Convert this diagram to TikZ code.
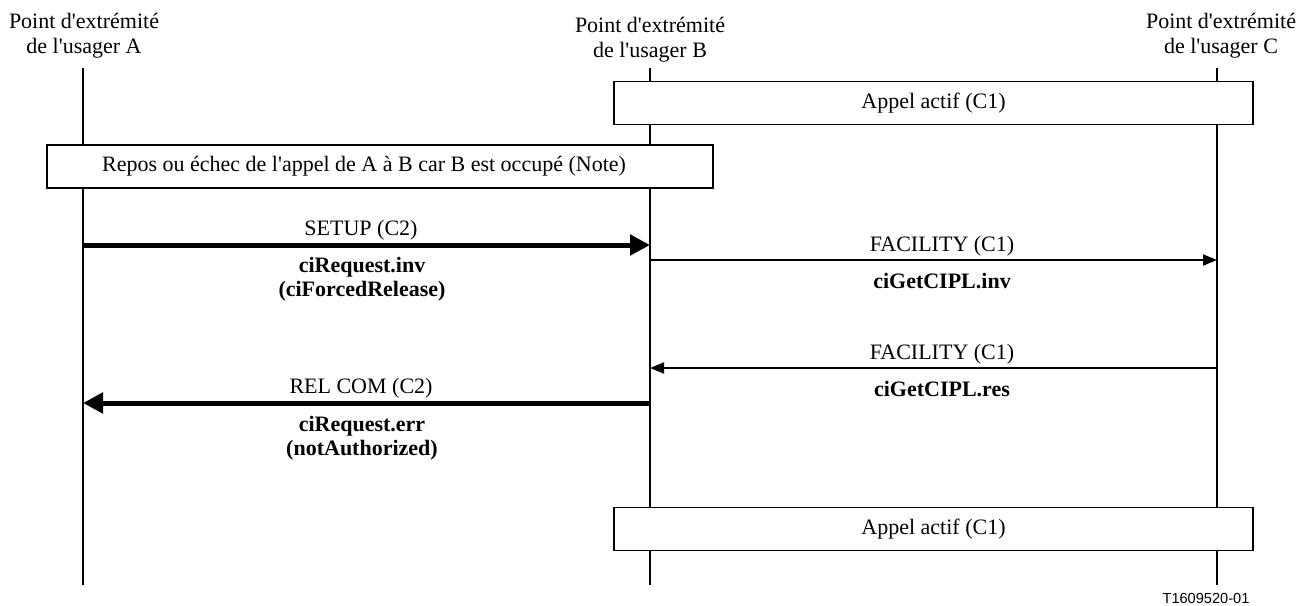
\documentclass[tikz,border=0pt]{standalone}
\usepackage{fontspec}
\setmainfont{Liberation Serif}
\setsansfont{Liberation Sans}
\usetikzlibrary{arrows.meta}
\newcommand{\apos}{\textquotesingle}
\begin{document}
\begin{tikzpicture}[x=1pt,y=-1pt,
  txt/.style={font=\fontsize{22}{25}\selectfont, inner sep=0pt, anchor=base},
  btxt/.style={font=\fontsize{22}{25}\selectfont\bfseries, inner sep=0pt, anchor=base},
  lifeline/.style={line width=2.2pt},
  statebox/.style={draw, line width=1.3pt, minimum height=43pt, inner sep=0pt, fill=white},
  boxtxt/.style={font=\fontsize{22}{25}\selectfont, inner sep=0pt},
  bigmsg/.style={line width=5pt, -{Triangle[length=20pt,width=20pt]}},
  smallmsg/.style={line width=2pt, -{Triangle[length=14pt,width=11pt]}}]
\useasboundingbox (0,0) rectangle (1305,605);
% endpoint headers
\node[txt] (hA1) at (84,28) {Point d\apos extrémité};
\node[txt] (hA2) at (84,53) {de l\apos usager A};
\node[txt] (hB1) at (650,32) {Point d\apos extrémité};
\node[txt] (hB2) at (650,57) {de l\apos usager B};
\node[txt] (hC1) at (1221,28) {Point d\apos extrémité};
\node[txt] (hC2) at (1221,53) {de l\apos usager C};
% lifelines
\coordinate (aT) at (83,68);  \coordinate (aB) at (83,585);
\coordinate (bT) at (650,68); \coordinate (bB) at (650,585);
\coordinate (cT) at (1217,68);\coordinate (cB) at (1217,585);
\draw[lifeline] (aT) -- (aB);
\draw[lifeline] (bT) -- (bB);
\draw[lifeline] (cT) -- (cB);
% state boxes
\node[statebox, minimum width=639pt] (s1) at (933.5,103) {};
\node[boxtxt] (t1) at (s1) {Appel actif (C1)};
\node[statebox, minimum width=666pt] (s2) at (380,166.5) {};
\node[boxtxt] (t2) at (364,166.5) {Repos ou échec de l\apos appel de A à B car B est occupé (Note)};
\node[statebox, minimum width=639pt] (s3) at (933.5,529) {};
\node[boxtxt] (t3) at (s3) {Appel actif (C1)};
% messages
\coordinate (m1s) at (83,245);   \coordinate (m1e) at (650,245);
\coordinate (m2s) at (650,260);  \coordinate (m2e) at (1217,260);
\coordinate (m3s) at (1217,368); \coordinate (m3e) at (650,368);
\coordinate (m4s) at (650,403);  \coordinate (m4e) at (83,403);
\draw[bigmsg] (m1s) -- (m1e);
\draw[smallmsg] (m2s) -- (m2e);
\draw[smallmsg] (m3s) -- (m3e);
\draw[bigmsg] (m4s) -- (m4e);
% message labels
\node[txt] (l1) at (361,235) {SETUP (C2)};
\node[btxt] (p1a) at (362,272) {ciRequest.inv};
\node[btxt] (p1b) at (362,296) {(ciForcedRelease)};
\node[txt] (l2) at (942,251) {FACILITY (C1)};
\node[btxt] (p2) at (942,288) {ciGetCIPL.inv};
\node[txt] (l3) at (942,359) {FACILITY (C1)};
\node[btxt] (p3) at (942,396) {ciGetCIPL.res};
\node[txt] (l4) at (361,393) {REL COM (C2)};
\node[btxt] (p4a) at (362,431) {ciRequest.err};
\node[btxt] (p4b) at (362,455) {(notAuthorized)};
% figure reference
\node[font=\sffamily\fontsize{14.6}{17}\selectfont, inner sep=0pt, anchor=base] (ref) at (1206,603) {T1609520-01};
\end{tikzpicture}
\end{document}
